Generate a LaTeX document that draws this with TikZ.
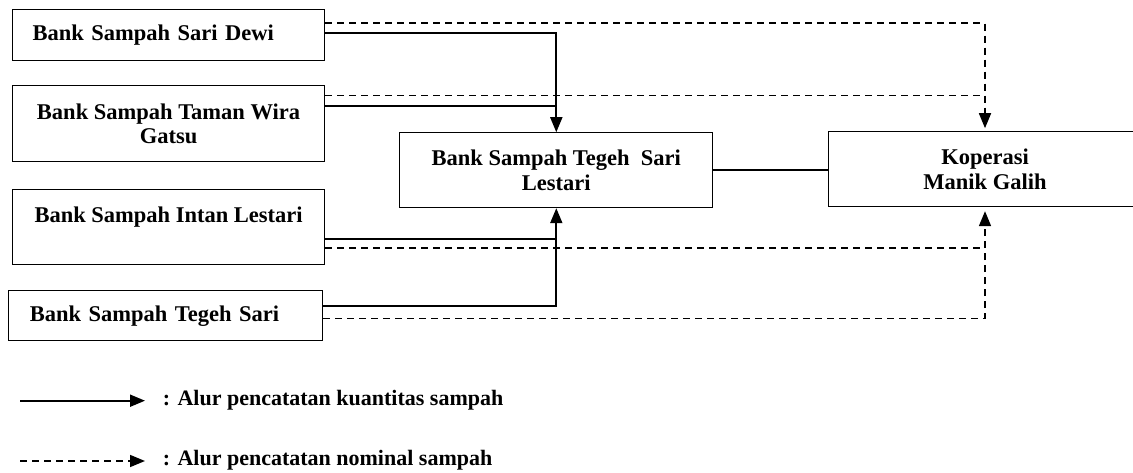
\documentclass[tikz,border=0pt]{standalone}
\usepackage{fontspec}
\setmainfont{Liberation Serif}
\usetikzlibrary{arrows.meta}

\begin{document}
\begin{tikzpicture}[x=1pt, y=-1pt, line width=1.8pt,
  box/.style={draw, line width=1pt, inner sep=0pt, minimum width=312.7pt, align=center, font=\bfseries\fontsize{22.5}{24.7}\selectfont},
  qty/.style={line width=1.9pt, -{Triangle[length=15pt, width=12pt]}},
  nom/.style={line width=1.6pt, dash pattern=on 7pt off 5pt, -{Triangle[length=15pt, width=12pt]}},
  legendtext/.style={inner sep=0pt, anchor=base west, font=\bfseries\fontsize{22}{24}\selectfont}]
\useasboundingbox (0, 0) rectangle (1133, 473);

% Boxes
\node[box, minimum height=50.7pt, text width=272pt, align=left] (dewi) at (168.6, 34.7) {Bank Sampah Sari Dewi};
\node[box, minimum height=75.7pt] (gatsu) at (168.6, 123.8) {Bank Sampah Taman Wira\\Gatsu};
\node[box, minimum height=75.3pt] (intan) at (168.6, 226.7) {Bank Sampah Intan Lestari\\\mbox{}};
\node[box, minimum width=313.7pt, minimum height=50.3pt, text width=272pt, align=left] (tegeh) at (165.8, 315.8) {Bank Sampah Tegeh Sari};
\node[box, minimum height=75pt] (lestari) at (556.3, 170.2) {Bank Sampah Tegeh\ \ Sari\\Lestari};
\node[box, minimum width=313.4pt, minimum height=75pt] (koperasi) at (985, 169.2) {Koperasi\\Manik Galih};

% Exit points
\coordinate (dewi-nom) at ([yshift=11.4pt]dewi.east);
\coordinate (dewi-qty) at ([yshift=1.4pt]dewi.east);
\coordinate (gatsu-nom) at ([yshift=28.1pt]gatsu.east);
\coordinate (gatsu-qty) at ([yshift=17.8pt]gatsu.east);
\coordinate (intan-qty) at ([yshift=-12.3pt]intan.east);
\coordinate (intan-nom) at ([yshift=-21.6pt]intan.east);
\coordinate (tegeh-qty) at ([yshift=10.1pt]tegeh.east);
\coordinate (tegeh-nom) at ([yshift=-2.5pt]tegeh.east);

% Kuantitas
\draw[qty] (dewi-qty) -| (lestari.north);
\draw[qty, -] (gatsu-qty) -- (gatsu-qty -| lestari.north);
\draw[qty] (tegeh-qty) -| (lestari.south);
\draw[qty, -] (intan-qty) -- (intan-qty -| lestari.south);
\draw (lestari.east) -- (lestari.east -| koperasi.west);

% Nominal
\draw[nom, shorten >=3pt] (dewi-nom) -| (koperasi.north);
\draw[nom, -] (gatsu-nom) -- (gatsu-nom -| koperasi.north);
\draw[nom, shorten >=4pt] (tegeh-nom) -| (koperasi.south);
\draw[nom, -] (intan-nom) -- (intan-nom -| koperasi.south);

% Legend
\coordinate (qty-start) at (20, 400.7);
\coordinate (qty-end) at (145, 400.7);
\coordinate (nom-start) at (20, 461);
\coordinate (nom-end) at (145, 461);
\draw[qty] (qty-start) -- (qty-end);
\draw[nom] (nom-start) -- (nom-end);
\node[legendtext] (qty-label) at (162, 405) {: Alur pencatatan kuantitas sampah};
\node[legendtext] (nom-label) at (162, 465) {: Alur pencatatan nominal sampah};
\end{tikzpicture}
\end{document}
